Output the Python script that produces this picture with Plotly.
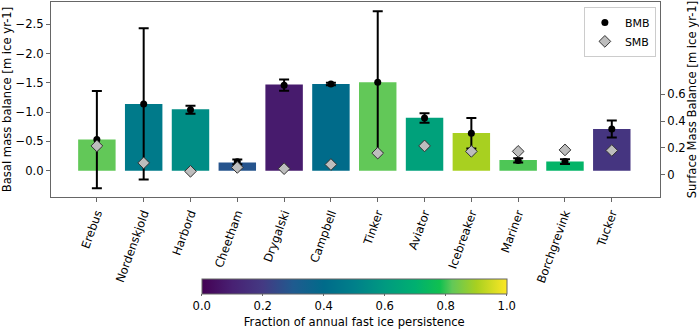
import plotly.graph_objects as go

shelves = ["Erebus", "Nordenskjold", "Harbord", "Cheetham", "Drygalski", "Campbell",
           "Tinker", "Aviator", "Icebreaker", "Mariner", "Borchgrevink", "Tucker"]
bar_bmb = [-0.53, -1.14, -1.05, -0.14, -1.47, -1.48, -1.51, -0.905, -0.645, -0.18, -0.155, -0.71]
bmb = [-0.53, -1.14, -1.04, -0.15, -1.46, -1.48, -1.51, -0.90, -0.64, -0.175, -0.155, -0.71]
bmb_err = [0.83, 1.29, 0.07, 0.04, 0.095, 0.02, 1.21, 0.08, 0.26, 0.035, 0.04, 0.145]
smb = [0.214, 0.087, 0.024, 0.053, 0.044, 0.075, 0.16, 0.214, 0.173, 0.173, 0.184, 0.18]
fast_ice = [0.82, 0.47, 0.55, 0.28, 0.08, 0.40, 0.82, 0.63, 0.90, 0.81, 0.72, 0.18]

cscale = [[0.0, "#440154"], [0.1, "#482173"], [0.2, "#443a83"], [0.3, "#1f5b8f"],
          [0.4, "#006b8a"], [0.5, "#00808a"], [0.6, "#009a80"], [0.7, "#00b070"],
          [0.78, "#10c050"], [0.82, "#62c858"], [0.9, "#a8d020"], [1.0, "#fde725"]]

FONT = "DejaVu Sans"
FS = 11.6
fig = go.Figure()
fig.add_trace(go.Bar(
    x=shelves, y=bar_bmb, width=0.8, showlegend=False,
    marker=dict(color=fast_ice, colorscale=cscale, cmin=0, cmax=1, line=dict(width=0),
                colorbar=dict(orientation="h", x=0.498, xanchor="center", y=-0.42, yanchor="top",
                              len=0.5, lenmode="fraction", thickness=15, ypad=0, xpad=0,
                              outlinecolor="#666", outlinewidth=1,
                              tickvals=[0, 0.2, 0.4, 0.6, 0.8, 1.0], tickformat=".1f",
                              ticks="outside", ticklen=2, tickcolor="#666",
                              tickfont=dict(size=FS, color="black"),
                              title=dict(text="Fraction of annual fast ice persistence", side="bottom",
                                         font=dict(size=FS, color="black")))),
))
fig.add_trace(go.Scatter(
    x=shelves, y=bmb, mode="markers", name="BMB",
    marker=dict(color="black", size=7, symbol="circle"),
    error_y=dict(type="data", array=bmb_err, color="black", thickness=2, width=5),
))
fig.add_trace(go.Scatter(
    x=shelves, y=smb, mode="markers", name="SMB", yaxis="y2",
    marker=dict(color="#bdbdbd", size=9, symbol="diamond", line=dict(color="#333", width=1)),
))

axis_common = dict(showline=True, linecolor="#666", linewidth=1, ticks="outside", ticklen=4,
                   tickcolor="#666", showgrid=False, zeroline=False, automargin=False,
                   tickfont=dict(size=FS, color="black"))
fig.update_layout(
    width=699, height=331, margin=dict(l=51, r=39, t=2, b=129),
    paper_bgcolor="white", plot_bgcolor="white",
    font=dict(family=FONT, size=FS, color="black"),
    xaxis=dict(**axis_common, range=[-0.98, 12.03], tickangle=-70, mirror=True),
    yaxis=dict(**axis_common, range=[0.45, -2.88], tickvals=[0, -0.5, -1, -1.5, -2, -2.5],
               tickformat=".1f", title=dict(text="Basal mass balance [m ice yr-1]", font=dict(size=FS))),
    yaxis2=dict(**axis_common, overlaying="y", side="right", range=[-0.168, 1.29],
                tickvals=[0, 0.2, 0.4, 0.6], ticktext=["0", "0.2", "0.4", "0.6"],
                title=dict(text="Surface Mass Balance [m ice yr-1]", font=dict(size=FS))),
    legend=dict(x=0.875, xanchor="left", y=0.975, yanchor="top", bgcolor="white",
                bordercolor="#ccc", borderwidth=1, font=dict(size=11), tracegroupgap=0),
)
fig.write_html("out.html", config={"displayModeBar": False},
               post_script="document.body.style.margin='0';document.body.style.overflow='hidden';")
